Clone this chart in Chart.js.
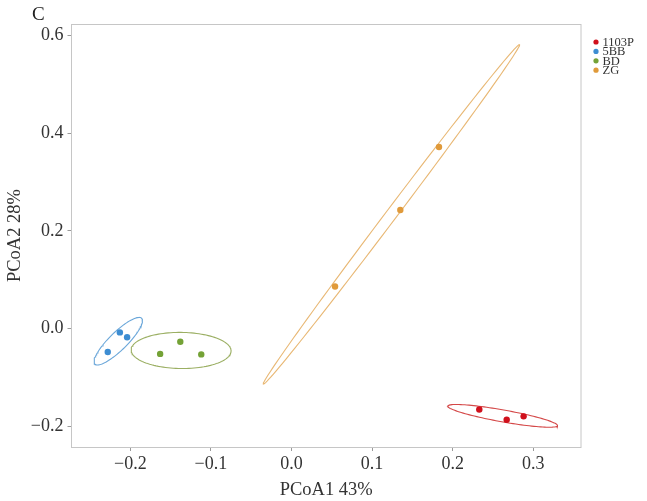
<!DOCTYPE html>
<html>
<head>
<meta charset="utf-8">
<script src="https://cdn.jsdelivr.net/npm/chart.js@4"></script>
<style>
  html, body { margin: 0; padding: 0; background: #fff; }
  #wrap { width: 647px; height: 501px; }
</style>
</head>
<body>
<div id="wrap"><canvas id="myChart"></canvas></div>
<script>
var groups = ['1103P', '5BB', 'BD', 'ZG'];
var dotColors = ['#d0101c', '#3d8dd2', '#74a236', '#e09a3a'];
var ringColors = ['rgba(204,40,40,0.85)', 'rgba(80,150,210,0.85)', 'rgba(130,155,60,0.8)', 'rgba(228,170,90,0.85)'];

// sample scores per group
var pc1 = [
	[0.233, 0.267, 0.288],
	[-0.213, -0.204, -0.228],
	[-0.138, -0.163, -0.112],
	[0.183, 0.135, 0.054]
];
var pc2 = [
	[-0.166, -0.187, -0.180],
	[-0.008, -0.018, -0.048],
	[-0.027, -0.052, -0.053],
	[0.372, 0.243, 0.086]
];

// ellipses: centre, end of semi-major axis, end of semi-minor axis (offsets)
var ellCenter = [[0.262, -0.179], [-0.215, -0.026], [-0.137, -0.045], [0.124, 0.234]];
var ellMajor = [[0.068, -0.020], [0.029, 0.047], [0.062, -0.001], [0.159, 0.348]];
var ellMinor = [[-0.0013, -0.012], [0.0078, -0.013], [0, -0.037], [0.0055, -0.0068]];

var xTicks = [-0.2, -0.1, 0, 0.1, 0.2, 0.3];
var yTicks = [-0.2, 0, 0.2, 0.4, 0.6];

var serif = '"Liberation Serif", "Times New Roman", serif';

function fmt(v) {
	var s = Number(v).toFixed(1);
	return s.charAt(0) == '-' ? '\u2212' + s.slice(1) : s;
}

function ellipsePoints(i) {
	var pts = [];
	for (var k = 0; k <= 120; k++) {
		var t = k / 120 * Math.PI * 2;
		pts.push({
			x: ellCenter[i][0] + ellMajor[i][0] * Math.cos(t) + ellMinor[i][0] * Math.sin(t),
			y: ellCenter[i][1] + ellMajor[i][1] * Math.cos(t) + ellMinor[i][1] * Math.sin(t)
		});
	}
	return pts;
}

var datasets = [];
groups.forEach(function(g, i) {
	datasets.push({
		label: g + ' ellipse',
		data: ellipsePoints(i),
		showLine: true,
		borderColor: ringColors[i],
		borderWidth: 1.1,
		pointRadius: 0,
		tension: 0,
		fill: false,
		order: 2
	});
	datasets.push({
		label: g,
		data: pc1[i].map(function(x, j) { return {x: x, y: pc2[i][j]}; }),
		backgroundColor: dotColors[i],
		borderColor: dotColors[i],
		pointRadius: 3.2,
		borderWidth: 0,
		order: 1
	});
});

var extras = {
	id: 'extras',
	beforeDatasetsDraw: function(chart) {
		var a = chart.chartArea, c = chart.ctx;
		c.save();
		c.strokeStyle = '#c6c6c6';
		c.lineWidth = 1;
		c.strokeRect(a.left, a.top + 0.5, a.right - a.left, a.bottom - a.top);
		c.restore();
	},
	afterDraw: function(chart) {
		var c = chart.ctx;
		c.save();
		c.fillStyle = '#222';
		c.font = '19px ' + serif;
		c.textBaseline = 'alphabetic';
		c.textAlign = 'left';
		c.fillText('C', 32, 20);

		c.font = '12.5px ' + serif;
		c.textBaseline = 'middle';
		groups.forEach(function(g, i) {
			var y = 42 + i * 9.4;
			c.fillStyle = dotColors[i];
			c.beginPath();
			c.arc(596, y, 2.6, 0, Math.PI * 2);
			c.fill();
			c.fillStyle = '#333';
			c.fillText(g, 602.5, y + 0.5);
		});
		c.restore();
	}
};

var ctx = document.getElementById('myChart').getContext('2d');
var chart = new Chart(ctx, {
	type: 'scatter',
	data: { datasets: datasets },
	options: {
		responsive: true,
		maintainAspectRatio: false,
		animation: false,
		layout: { padding: { top: 24, right: 66, bottom: 0, left: 0 } },
		plugins: {
			legend: { display: false },
			tooltip: { enabled: false }
		},
		scales: {
			x: {
				type: 'linear',
				min: -0.273,
				max: 0.3592,
				afterBuildTicks: function(s) { s.ticks = xTicks.map(function(v) { return {value: v}; }); },
				afterFit: function(s) { s.height = 54; },
				border: { display: false },
				grid: { drawOnChartArea: false, drawTicks: true, tickLength: 4, color: '#9a9a9a' },
				ticks: { font: { family: serif, size: 18 }, color: '#333', padding: 2, callback: fmt, maxRotation: 0 },
				title: { display: true, text: 'PCoA1 43%', font: { family: serif, size: 18.5 }, color: '#333', padding: { top: 0, bottom: 0 } }
			},
			y: {
				type: 'linear',
				min: -0.2428,
				max: 0.624,
				afterBuildTicks: function(s) { s.ticks = yTicks.map(function(v) { return {value: v}; }); },
				afterFit: function(s) { s.width = 71.5; },
				border: { display: false },
				grid: { drawOnChartArea: false, drawTicks: true, tickLength: 4, color: '#9a9a9a' },
				ticks: { font: { family: serif, size: 18 }, color: '#333', padding: 4, callback: fmt },
				title: { display: true, text: 'PCoA2 28%', font: { family: serif, size: 18.5 }, color: '#333', padding: { top: 4, bottom: 0 } }
			}
		}
	},
	plugins: [extras]
});
</script>
</body>
</html>
